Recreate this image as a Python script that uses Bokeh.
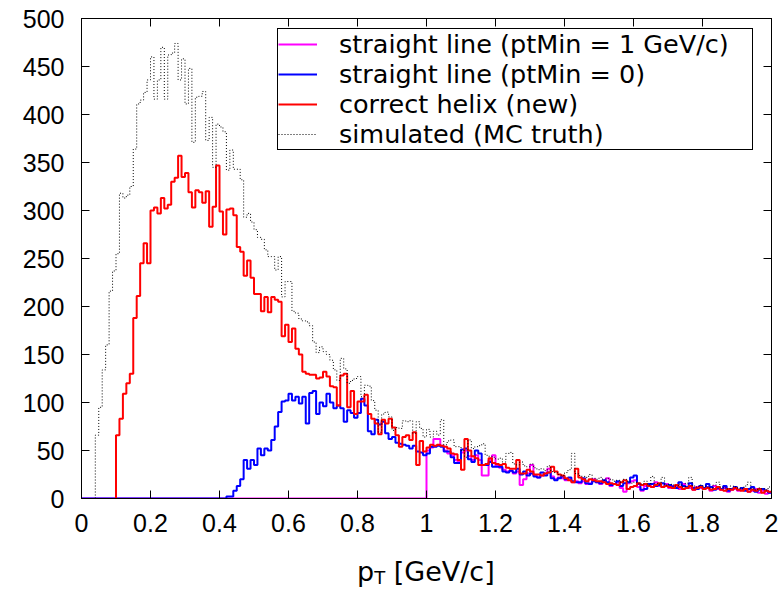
import numpy as np
from bokeh.plotting import figure
from bokeh.layouts import column
from bokeh.models import Range1d, LinearAxis, FixedTicker, Legend, LegendItem, Div
from bokeh.embed import file_html
from bokeh.resources import INLINE

# ---------------- data ----------------
bin_width = 0.01
n_bins = 200
x_ticks = [0, 0.2, 0.4, 0.6, 0.8, 1, 1.2, 1.4, 1.6, 1.8, 2]
x_tick_labels = ["0", "0.2", "0.4", "0.6", "0.8", "1", "1.2", "1.4", "1.6", "1.8", "2"]
y_ticks = [0, 50, 100, 150, 200, 250, 300, 350, 400, 450, 500]

series_labels = ["straight line (ptMin = 1 GeV/c)", "straight line (ptMin = 0)",
                 "correct helix (new)", "simulated (MC truth)"]

# simulated (MC truth), bins of 0.01 GeV/c from 0 to 2
sim = [
    0, 0, 0, 0, 66, 95, 134, 160, 216, 237,
    255, 318, 313, 316, 325, 364, 411, 415, 423, 436,
    460, 416, 436, 470, 416, 462, 464, 474, 436, 458,
    411, 448, 371, 418, 419, 424, 373, 397, 345, 390,
    387, 382, 342, 363, 343, 343, 332, 293, 297, 288,
    280, 272, 270, 259, 252, 252, 238, 252, 210, 226,
    226, 195, 193, 187, 185, 184, 180, 163, 152, 158,
    153, 150, 144, 134, 123, 146, 135, 120, 123, 125,
    127, 106, 118, 117, 102, 92, 69, 88, 90, 85,
    71, 74, 73, 81, 80, 81, 68, 80, 73, 64,
    72, 64, 70, 66, 82, 56, 60, 61, 54, 54,
    50, 43, 61, 52, 54, 55, 57, 45, 44, 43,
    41, 42, 38, 47, 48, 36, 35, 38, 34, 33,
    36, 32, 30, 31, 29, 34, 28, 27, 25, 24,
    27, 30, 47, 26, 24, 23, 22, 25, 21, 20,
    22, 19, 21, 20, 18, 19, 17, 20, 18, 16,
    17, 16, 15, 18, 14, 23, 16, 15, 22, 14,
    15, 14, 13, 15, 12, 16, 22, 13, 12, 14,
    13, 12, 11, 14, 17, 12, 11, 10, 13, 12,
    11, 10, 13, 17, 10, 9, 11, 10, 9, 12,
]

# correct helix (new)
helix = [
    0, 0, 0, 0, 0, 0, 0, 0, 0, 0,
    66, 83, 109, 120, 130, 188, 211, 245, 266, 245,
    300, 303, 297, 313, 302, 306, 330, 334, 357, 335,
    339, 319, 303, 321, 319, 308, 320, 283, 304, 347,
    299, 275, 301, 302, 295, 262, 257, 232, 248, 230,
    213, 213, 195, 210, 194, 210, 207, 205, 169, 181,
    163, 177, 156, 150, 132, 130, 129, 129, 125, 126,
    132, 127, 117, 116, 97, 128, 130, 95, 112, 88,
    101, 101, 108, 88, 83, 78, 67, 82, 78, 83,
    74, 66, 54, 64, 66, 61, 69, 35, 60, 49,
    53, 56, 55, 56, 55, 54, 52, 47, 46, 40,
    30, 62, 50, 44, 42, 35, 35, 36, 42, 37,
    36, 35, 36, 32, 31, 31, 40, 26, 26, 30,
    28, 25, 25, 24, 26, 27, 33, 28, 25, 24,
    21, 19, 17, 31, 22, 20, 18, 20, 19, 18,
    18, 17, 15, 16, 15, 14, 17, 19, 10, 12,
    13, 16, 14, 15, 13, 12, 14, 16, 12, 13,
    12, 11, 14, 12, 10, 11, 13, 9, 11, 12,
    10, 11, 9, 10, 12, 9, 8, 10, 9, 11,
    9, 8, 10, 7, 9, 8, 10, 6, 8, 7,
]

# straight line (ptMin = 0)
straight0 = [
    0, 0, 0, 0, 0, 0, 0, 0, 0, 0,
    0, 0, 0, 0, 0, 0, 0, 0, 0, 0,
    0, 0, 0, 0, 0, 0, 0, 0, 0, 0,
    0, 0, 0, 0, 0, 0, 0, 0, 0, 0,
    0, 0, 2, 2, 8, 13, 20, 40, 31, 40,
    35, 52, 45, 52, 50, 61, 75, 90, 101, 102,
    109, 102, 106, 99, 106, 78, 110, 112, 88, 100,
    96, 109, 100, 94, 97, 94, 80, 92, 89, 84,
    89, 104, 97, 70, 67, 82, 77, 80, 68, 62,
    64, 58, 57, 56, 55, 52, 55, 49, 48, 45,
    47, 54, 54, 55, 54, 49, 49, 43, 37, 37,
    51, 52, 41, 38, 50, 47, 35, 35, 38, 33,
    33, 33, 28, 27, 29, 27, 31, 25, 28, 24,
    26, 23, 22, 27, 24, 27, 21, 19, 21, 23,
    20, 22, 18, 17, 17, 21, 16, 15, 18, 17,
    16, 19, 17, 14, 15, 18, 13, 16, 17, 22,
    24, 15, 9, 10, 15, 15, 13, 14, 16, 13,
    14, 12, 11, 17, 13, 12, 16, 11, 10, 13,
    11, 15, 12, 9, 11, 10, 13, 8, 10, 12,
    9, 11, 8, 10, 12, 7, 9, 10, 8, 6,
]

# straight line (ptMin = 1 GeV/c)
straight1 = [0] * 100 + [
    50, 53, 62, 62, 55, 50, 47, 45, 40, 38,
    48, 50, 44, 40, 45, 40, 24, 24, 40, 45,
    34, 32, 30, 28, 29, 26, 28, 14, 20, 26,
    35, 24, 22, 24, 26, 31, 23, 20, 22, 21,
    19, 20, 17, 18, 16, 18, 15, 16, 20, 17,
    15, 18, 21, 13, 15, 17, 11, 7, 16, 18,
    19, 12, 8, 13, 14, 12, 17, 13, 12, 15,
    11, 13, 12, 10, 15, 12, 11, 9, 12, 11,
    10, 12, 8, 13, 10, 9, 11, 7, 9, 10,
    8, 10, 9, 7, 8, 10, 6, 8, 5, 6,
]

edges = np.arange(n_bins + 1) * bin_width


def step_path(vals, start):
    xs = [edges[start]]
    ys = [0.0]
    for i in range(start, n_bins):
        xs += [edges[i], edges[i + 1]]
        ys += [vals[i], vals[i]]
    return xs, ys


def first_nonzero(vals):
    for i, v in enumerate(vals):
        if v != 0:
            return i
    return 0


# ---------------- figure ----------------
fig = figure(width=784, height=545, x_range=Range1d(0, 2), y_range=Range1d(0, 500),
             output_backend="svg", toolbar_location=None,
             min_border_left=81, min_border_right=13, min_border_top=18, min_border_bottom=47)
fig.xgrid.visible = False
fig.ygrid.visible = False
fig.outline_line_color = "black"
fig.outline_line_width = 1
fig.outline_line_alpha = 1.0
fig.background_fill_color = "white"
fig.border_fill_color = "white"

TICK_FONT = "Liberation Sans"


def style_axis(ax, ticks, show_labels):
    ax.ticker = FixedTicker(ticks=ticks)
    ax.axis_line_color = "black"
    ax.major_tick_line_color = "black"
    ax.major_tick_in = 8
    ax.major_tick_out = 0
    ax.minor_tick_in = 0
    ax.minor_tick_out = 0
    ax.minor_tick_line_color = None
    if show_labels:
        ax.major_label_text_font = TICK_FONT
        ax.major_label_text_font_size = "25px"
        ax.major_label_text_color = "black"
    else:
        ax.major_label_text_font_size = "0px"
        ax.major_label_text_color = None
        ax.major_label_standoff = 0


xa = fig.xaxis[0]
style_axis(xa, x_ticks, True)
xa.major_label_overrides = dict(zip(x_ticks, x_tick_labels))
xa.major_label_standoff = 15

ya = fig.yaxis[0]
style_axis(ya, y_ticks, True)
ya.major_label_standoff = 17

ra = LinearAxis()
style_axis(ra, y_ticks, False)
fig.add_layout(ra, "right")

ta = LinearAxis()
style_axis(ta, x_ticks, False)
fig.add_layout(ta, "above")

# ---------------- histograms ----------------
colors = ["#ff00ff", "#0000ff", "#ff0000", "#000000"]
data_sets = [straight1, straight0, helix, sim]
starts = [0, 0, first_nonzero(helix), first_nonzero(sim)]
renderers = []
for vals, col, st in zip(data_sets, colors, starts):
    xs, ys = step_path(vals, st)
    if col == "#000000":
        r = fig.line(xs, ys, line_color=col, line_width=1, line_dash="1 2")
    else:
        r = fig.line(xs, ys, line_color=col, line_width=2)
    renderers.append(r)

legend = Legend(items=[LegendItem(label=lab, renderers=[r]) for lab, r in zip(series_labels, renderers)],
                location=(196, 348))
legend.label_text_font = "DejaVu Sans"
legend.label_text_font_size = "25.5px"
legend.label_text_color = "black"
legend.border_line_color = "black"
legend.border_line_width = 1
legend.border_line_alpha = 1.0
legend.background_fill_color = "white"
legend.background_fill_alpha = 1.0
legend.padding = 0
legend.spacing = 0
legend.margin = 0
legend.label_standoff = 22
legend.glyph_width = 39
legend.glyph_height = 20
legend.label_height = 20
legend.label_width = 413
fig.add_layout(legend)

# x axis title: p_T [GeV/c]  (HTML text below the plot)
xtitle = Div(
    text=('<div style="margin:0;padding:11px 0 0 357px;font-family:\'DejaVu Sans\',sans-serif;'
          'font-size:27px;line-height:32px;color:#000;white-space:nowrap">'
          'p<span style="font-size:18px;position:relative;top:3px">T</span> [GeV/c]</div>'),
    width=784, height=44, margin=(0, 0, 0, 0))

p = column(fig, xtitle, spacing=0, margin=(0, 0, 0, 0))

open("out.html", "w").write(file_html(p, INLINE))
